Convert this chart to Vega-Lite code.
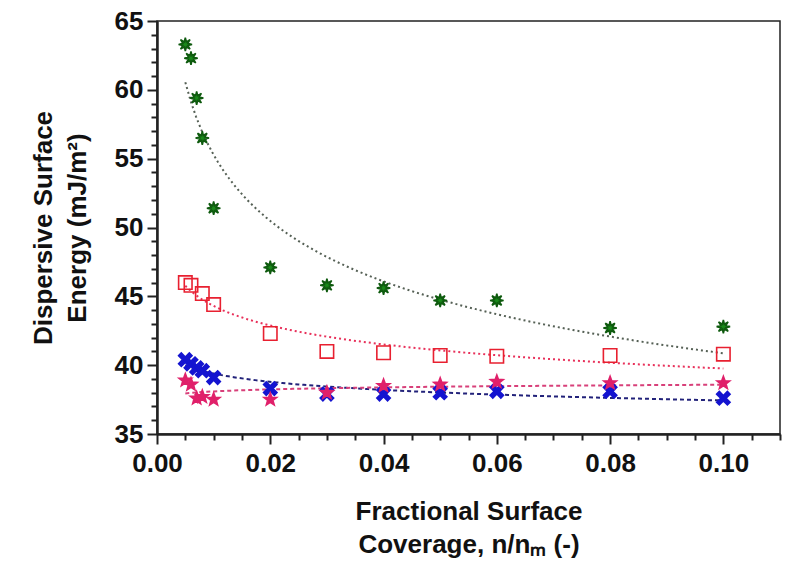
{
  "$schema": "https://vega.github.io/schema/vega-lite/v6.json",
  "width": 623,
  "height": 413,
  "autosize": "none",
  "padding": {"left": 157, "top": 21, "right": 11, "bottom": 131},
  "background": "white",
  "config": {
    "view": {"stroke": "#222", "strokeWidth": 1.5},
    "font": "Liberation Sans",
    "axis": {"grid": false, "domainColor": "#222", "tickColor": "#222", "labelColor": "#111", "titleColor": "#111", "domainWidth": 2, "labelFont": "Liberation Sans", "titleFont": "Liberation Sans"},
    "legend": {"disable": false, "orient": "top-right", "offset": 19, "padding": 0, "labelFontSize": 25, "labelFont": "Liberation Sans", "labelColor": "#111", "labelOffset": 42, "rowPadding": 13, "symbolSize": 180, "symbolStrokeWidth": 1.6, "labelLimit": 400, "zindex": 2}
  },
  "data": {
    "values": [
      {"series": "Mannitol", "x": 0.005, "y": 46.0},
      {"series": "Mannitol", "x": 0.006, "y": 45.8},
      {"series": "Mannitol", "x": 0.008, "y": 45.2},
      {"series": "Mannitol", "x": 0.01, "y": 44.4},
      {"series": "Mannitol", "x": 0.02, "y": 42.3},
      {"series": "Mannitol", "x": 0.03, "y": 41.0},
      {"series": "Mannitol", "x": 0.04, "y": 40.9},
      {"series": "Mannitol", "x": 0.05, "y": 40.7},
      {"series": "Mannitol", "x": 0.06, "y": 40.65},
      {"series": "Mannitol", "x": 0.08, "y": 40.7},
      {"series": "Mannitol", "x": 0.1, "y": 40.8},
      {"series": "Milled Mannitol", "x": 0.005, "y": 63.3},
      {"series": "Milled Mannitol", "x": 0.006, "y": 62.3},
      {"series": "Milled Mannitol", "x": 0.007, "y": 59.4},
      {"series": "Milled Mannitol", "x": 0.008, "y": 56.5},
      {"series": "Milled Mannitol", "x": 0.01, "y": 51.4},
      {"series": "Milled Mannitol", "x": 0.02, "y": 47.1},
      {"series": "Milled Mannitol", "x": 0.03, "y": 45.8},
      {"series": "Milled Mannitol", "x": 0.04, "y": 45.6},
      {"series": "Milled Mannitol", "x": 0.05, "y": 44.7},
      {"series": "Milled Mannitol", "x": 0.06, "y": 44.7},
      {"series": "Milled Mannitol", "x": 0.08, "y": 42.7},
      {"series": "Milled Mannitol", "x": 0.1, "y": 42.8},
      {"series": "Sil. Mannitol", "x": 0.005, "y": 40.4},
      {"series": "Sil. Mannitol", "x": 0.006, "y": 40.1},
      {"series": "Sil. Mannitol", "x": 0.007, "y": 39.8},
      {"series": "Sil. Mannitol", "x": 0.008, "y": 39.6},
      {"series": "Sil. Mannitol", "x": 0.01, "y": 39.1},
      {"series": "Sil. Mannitol", "x": 0.02, "y": 38.3},
      {"series": "Sil. Mannitol", "x": 0.03, "y": 37.9},
      {"series": "Sil. Mannitol", "x": 0.04, "y": 37.9},
      {"series": "Sil. Mannitol", "x": 0.05, "y": 38.0},
      {"series": "Sil. Mannitol", "x": 0.06, "y": 38.1},
      {"series": "Sil. Mannitol", "x": 0.08, "y": 38.1},
      {"series": "Sil. Mannitol", "x": 0.1, "y": 37.6},
      {"series": "Sil. Milled Mannitol", "x": 0.005, "y": 38.9},
      {"series": "Sil. Milled Mannitol", "x": 0.006, "y": 38.6},
      {"series": "Sil. Milled Mannitol", "x": 0.007, "y": 37.6},
      {"series": "Sil. Milled Mannitol", "x": 0.008, "y": 37.7},
      {"series": "Sil. Milled Mannitol", "x": 0.01, "y": 37.5},
      {"series": "Sil. Milled Mannitol", "x": 0.02, "y": 37.5},
      {"series": "Sil. Milled Mannitol", "x": 0.03, "y": 38.0},
      {"series": "Sil. Milled Mannitol", "x": 0.04, "y": 38.5},
      {"series": "Sil. Milled Mannitol", "x": 0.05, "y": 38.6},
      {"series": "Sil. Milled Mannitol", "x": 0.06, "y": 38.8},
      {"series": "Sil. Milled Mannitol", "x": 0.08, "y": 38.7},
      {"series": "Sil. Milled Mannitol", "x": 0.1, "y": 38.7}
    ]
  },
  "layer": [
    {
      "transform": [
        {"regression": "y", "on": "x", "groupby": ["series"], "method": "pow", "extent": [0.005, 0.1]}
      ],
      "mark": {"type": "line", "strokeWidth": 2},
      "encoding": {
        "x": {
          "field": "x", "type": "quantitative",
          "scale": {"domain": [0, 0.11], "nice": false, "zero": false},
          "axis": {"orient": "bottom", "values": [0.005, 0.01, 0.015, 0.025, 0.03, 0.035, 0.045, 0.05, 0.055, 0.065, 0.07, 0.075, 0.085, 0.09, 0.095, 0.105, 0.11], "labels": false, "tickSize": 6, "tickWidth": 2, "title": null}
        },
        "y": {
          "field": "y", "type": "quantitative",
          "scale": {"domain": [35, 65], "nice": false, "zero": false},
          "axis": {"orient": "left", "values": [36, 37, 38, 39, 41, 42, 43, 44, 46, 47, 48, 49, 51, 52, 53, 54, 56, 57, 58, 59, 61, 62, 63, 64], "labels": false, "tickSize": 6, "tickWidth": 2, "title": null}
        },
        "color": {
          "field": "series", "type": "nominal",
          "scale": {"domain": ["Mannitol", "Milled Mannitol", "Sil. Mannitol", "Sil. Milled Mannitol"], "range": ["#e8305a", "#556055", "#22227a", "#d8407a"]},
          "legend": null
        },
        "strokeDash": {
          "field": "series", "type": "nominal",
          "scale": {"domain": ["Mannitol", "Milled Mannitol", "Sil. Mannitol", "Sil. Milled Mannitol"], "range": [[2, 3], [2, 3], [4, 3], [4, 3]]},
          "legend": null
        }
      }
    },
    {
      "mark": {"type": "point", "filled": true, "size": 180, "strokeWidth": 1.6, "opacity": 1},
      "encoding": {
        "x": {
          "field": "x", "type": "quantitative",
          "scale": {"domain": [0, 0.11], "nice": false, "zero": false},
          "axis": {
            "orient": "bottom",
            "values": [0, 0.02, 0.04, 0.06, 0.08, 0.1],
            "format": ".2f",
            "labelFontSize": 26, "labelFontWeight": "bold", "labelPadding": 6, "labelFlush": false,
            "tickSize": 10, "tickWidth": 2,
            "title": ["Fractional Surface", "Coverage, n/nₘ (-)"], "titleFontSize": 26, "titleFontWeight": "bold", "titleLineHeight": 33, "titlePadding": 22
          }
        },
        "y": {
          "field": "y", "type": "quantitative",
          "scale": {"domain": [35, 65], "nice": false, "zero": false},
          "axis": {
            "orient": "left",
            "values": [35, 40, 45, 50, 55, 60, 65],
            "labelFontSize": 26, "labelFontWeight": "bold", "labelPadding": 4, "labelFlush": false,
            "tickSize": 10, "tickWidth": 2,
            "title": ["Dispersive Surface", "Energy (mJ/m²)"], "titleFontSize": 26, "titleFontWeight": "bold", "titleLineHeight": 34, "titlePadding": 24
          }
        },
        "shape": {
          "field": "series", "type": "nominal",
          "scale": {"domain": ["Mannitol", "Milled Mannitol", "Sil. Mannitol", "Sil. Milled Mannitol"], "range": ["square", "M0,-1L0.153,-0.37L0.707,-0.707L0.37,-0.153L1,0L0.37,0.153L0.707,0.707L0.153,0.37L0,1L-0.153,0.37L-0.707,0.707L-0.37,0.153L-1,0L-0.37,-0.153L-0.707,-0.707L-0.153,-0.37Z", "M-1,-0.6L-0.6,-1L0,-0.4L0.6,-1L1,-0.6L0.4,0L1,0.6L0.6,1L0,0.4L-0.6,1L-1,0.6L-0.4,0Z", "M0,-1L0.247,-0.34L0.951,-0.309L0.399,0.13L0.588,0.809L0,0.42L-0.588,0.809L-0.399,0.13L-0.951,-0.309L-0.247,-0.34Z"]},
          "legend": {"title": null}
        },
        "fill": {
          "field": "series", "type": "nominal",
          "scale": {"domain": ["Mannitol", "Milled Mannitol", "Sil. Mannitol", "Sil. Milled Mannitol"], "range": ["transparent", "#1a8a1a", "#1414d0", "#e0206a"]},
          "legend": {"title": null}
        },
        "stroke": {
          "field": "series", "type": "nominal",
          "scale": {"domain": ["Mannitol", "Milled Mannitol", "Sil. Mannitol", "Sil. Milled Mannitol"], "range": ["#e82030", "#0e5a0e", "#1414d0", "#e0206a"]},
          "legend": {"title": null}
        }
      }
    }
  ],
  "resolve": {"axis": {"x": "independent", "y": "independent"}}
}
